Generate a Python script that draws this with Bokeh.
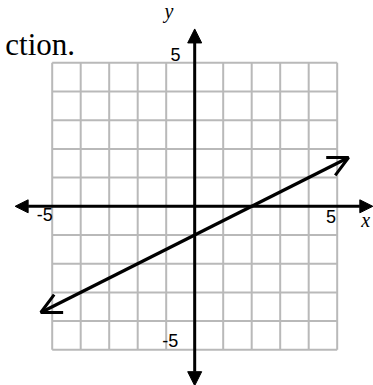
from bokeh.plotting import figure
from bokeh.models import Range1d, Arrow, NormalHead, OpenHead
from bokeh.core.properties import value
from bokeh.embed import file_html
from bokeh.resources import INLINE

# grid positions (-5 .. 5)
grid_values = [-5, -4, -3, -2, -1, 0, 1, 2, 3, 4, 5]
grid_min = -5
grid_max = 5

# axes extents (arrow tips)
x_axis_ends = [-6.3, 6.25]
y_axis_ends = [-6.25, 6.18]

# the graphed line y = x/2 - 1
line_x = [-5.4, 5.4]
line_y = [-3.7, 1.7]

# tick labels
tick_labels = ["5", "-5", "-5", "5"]
tick_x = [-0.5, -0.58, -4.98, 4.96]
tick_y = [5.28, -4.68, -0.27, -0.35]

# axis names
axis_names = ["x", "y"]
axis_name_x = [6.0, -0.9]
axis_name_y = [-0.47, 6.8]

# question text (cut off at left in the original)
title_text = ["ction."]
title_x = [-4.2]
title_y = [5.63]

p = figure(width=373, height=385, output_backend="svg", toolbar_location=None,
           x_range=Range1d(-6.814, 6.274), y_range=Range1d(-6.244, 7.171),
           x_axis_location=None, y_axis_location=None, min_border=0)
p.grid.visible = False
p.outline_line_color = None
p.background_fill_color = "white"
p.border_fill_color = "white"

# grid
p.segment(x0=grid_values, y0=[grid_min] * len(grid_values),
          x1=grid_values, y1=[grid_max] * len(grid_values),
          line_color="#b9b9b9", line_width=2)
p.segment(x0=[grid_min] * len(grid_values), y0=grid_values,
          x1=[grid_max] * len(grid_values), y1=grid_values,
          line_color="#b9b9b9", line_width=2)

# axes with filled arrowheads
p.add_layout(Arrow(x_start=x_axis_ends[0], y_start=0, x_end=x_axis_ends[1], y_end=0,
                   line_width=3, line_color="black",
                   start=NormalHead(size=13, fill_color="black", line_color="black"),
                   end=NormalHead(size=13, fill_color="black", line_color="black")))
p.add_layout(Arrow(x_start=0, y_start=y_axis_ends[0], x_end=0, y_end=y_axis_ends[1],
                   line_width=3, line_color="black",
                   start=NormalHead(size=14, fill_color="black", line_color="black"),
                   end=NormalHead(size=14, fill_color="black", line_color="black")))

# graphed line with open arrowheads
p.add_layout(Arrow(x_start=line_x[0], y_start=line_y[0], x_end=line_x[1], y_end=line_y[1],
                   line_width=3.2, line_color="black",
                   start=OpenHead(size=20, line_width=3, line_color="black"),
                   end=OpenHead(size=20, line_width=3, line_color="black")))

# tick labels
p.text(x=tick_x, y=tick_y, text=tick_labels, text_font=value("Liberation Sans"),
       text_font_size="18px", text_align="right", text_baseline="alphabetic",
       text_color="black")

# axis names
p.text(x=axis_name_x, y=axis_name_y, text=axis_names, text_font=value("Liberation Serif"),
       text_font_size="20px", text_font_style="italic", text_align="center",
       text_baseline="alphabetic", text_color="black")

# question text
p.text(x=title_x, y=title_y, text=title_text, text_font=value("Liberation Serif"),
       text_font_size="31px", text_align="right", text_baseline="alphabetic",
       text_color="black")

open("out.html", "w").write(file_html(p, INLINE))
